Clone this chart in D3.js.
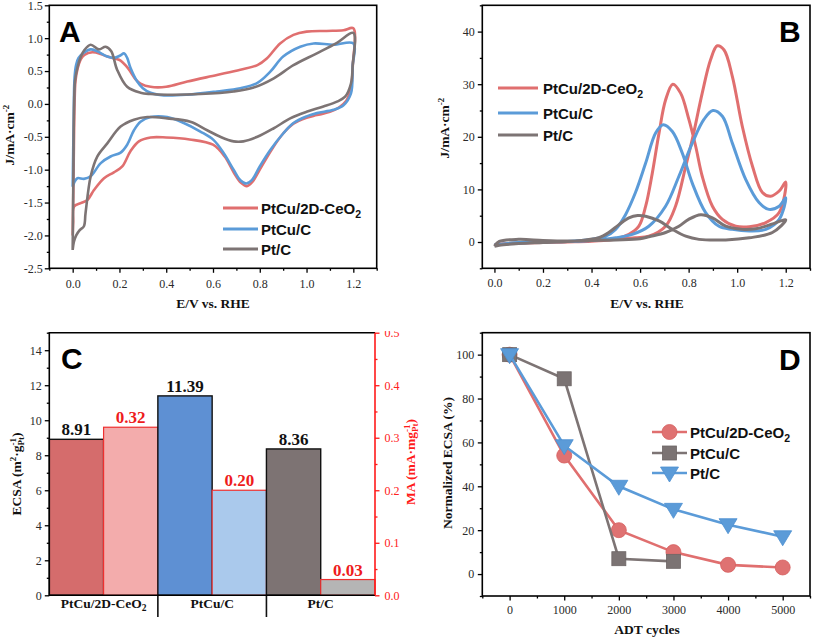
<!DOCTYPE html>
<html><head><meta charset="utf-8">
<script src="https://cdn.jsdelivr.net/npm/d3@7"></script>
<style>body{margin:0;background:#fff}</style>
</head><body><svg id="c" width="813" height="639"></svg>
<script>
// ---------------- DATA ----------------
const seriesNames = ["PtCu/2D-CeO2", "PtCu/C", "Pt/C"];

// Panel A: CV loops [E, J]
const cvRed = [[0,-2.0],[0.004,-1.0],[0.008,0.0],[0.012,0.35],[0.02,0.52],[0.035,0.68],[0.05,0.745],[0.084,0.785],[0.12,0.76],[0.148,0.72],[0.18,0.69],[0.205,0.66],[0.23,0.57],[0.247,0.49],[0.27,0.37],[0.29,0.31],[0.333,0.26],[0.4,0.26],[0.49,0.34],[0.617,0.44],[0.717,0.52],[0.79,0.59],[0.83,0.69],[0.887,0.92],[0.944,1.05],[1.0,1.10],[1.086,1.11],[1.158,1.12],[1.2,1.15],
  [1.198,0.6],[1.19,0.25],[1.17,0.05],[1.14,-0.05],[1.1,-0.12],[1.044,-0.17],[1.0,-0.21],[0.944,-0.3],[0.9,-0.45],[0.85,-0.7],[0.8,-1.0],[0.77,-1.18],[0.745,-1.25],[0.72,-1.2],[0.69,-1.05],[0.65,-0.8],[0.6,-0.62],[0.5,-0.54],[0.4,-0.51],[0.333,-0.51],[0.283,-0.57],[0.247,-0.72],[0.212,-0.95],[0.176,-1.04],[0.134,-1.13],[0.091,-1.31],[0.063,-1.46],[0.034,-1.51],[0.006,-1.56],[0.002,-1.8],[0,-2.0]];
const cvBlue = [[0,-1.26],[0.004,-0.3],[0.008,0.4],[0.015,0.6],[0.025,0.7],[0.048,0.78],[0.077,0.83],[0.105,0.80],[0.148,0.72],[0.176,0.7],[0.205,0.74],[0.219,0.77],[0.233,0.7],[0.247,0.55],[0.276,0.34],[0.3,0.24],[0.333,0.17],[0.39,0.13],[0.49,0.14],[0.617,0.19],[0.717,0.24],[0.79,0.32],[0.845,0.49],[0.9,0.72],[0.973,0.87],[1.03,0.92],[1.115,0.90],[1.2,0.92],
  [1.197,0.57],[1.19,0.16],[1.158,-0.02],[1.115,-0.09],[1.044,-0.14],[1.0,-0.19],[0.944,-0.29],[0.9,-0.45],[0.845,-0.7],[0.8,-0.95],[0.766,-1.16],[0.742,-1.21],[0.717,-1.16],[0.688,-1.0],[0.646,-0.75],[0.603,-0.55],[0.546,-0.42],[0.475,-0.29],[0.404,-0.2],[0.333,-0.2],[0.29,-0.27],[0.262,-0.4],[0.233,-0.62],[0.205,-0.74],[0.162,-0.8],[0.12,-0.9],[0.077,-1.1],[0.048,-1.14],[0.02,-1.13],[0.006,-1.2],[0,-1.26]];
const cvGray = [[0,-2.22],[0.003,-1.0],[0.006,0.0],[0.01,0.35],[0.02,0.55],[0.035,0.72],[0.05,0.82],[0.077,0.9],[0.112,0.83],[0.141,0.87],[0.165,0.8],[0.19,0.52],[0.233,0.26],[0.29,0.17],[0.333,0.15],[0.404,0.14],[0.546,0.15],[0.688,0.19],[0.774,0.25],[0.86,0.39],[0.944,0.59],[1.044,0.77],[1.13,0.93],[1.2,1.08],
  [1.197,0.57],[1.19,0.31],[1.165,0.11],[1.13,0.035],[1.072,-0.04],[1.0,-0.12],[0.93,-0.22],[0.86,-0.37],[0.79,-0.5],[0.73,-0.57],[0.688,-0.57],[0.631,-0.5],[0.575,-0.4],[0.503,-0.27],[0.404,-0.22],[0.319,-0.2],[0.262,-0.24],[0.205,-0.345],[0.148,-0.6],[0.105,-0.8],[0.077,-1.1],[0.055,-1.66],[0.048,-1.86],[0.03,-1.92],[0.015,-2.0],[0.005,-2.1],[0,-2.22]];

// Panel B: methanol oxidation CV loops [E, J]
const moRed = [[0,-0.5],[0.05,-0.3],[0.1,-0.2],[0.2,-0.1],[0.3,0.0],[0.4,0.15],[0.5,0.5],[0.58,0.8],[0.636,1.1],[0.705,3],[0.746,6.8],[0.788,14.4],[0.815,19.5],[0.856,28.3],[0.89,34.6],[0.918,37.3],[0.946,36.5],[0.98,31.5],[1.021,22],[1.063,14.4],[1.104,9.4],[1.138,8.7],[1.173,9.7],[1.2,11.4],
  [1.173,5.6],[1.118,3.7],[1.05,2.9],[0.994,3],[0.939,4.3],[0.898,6.8],[0.856,12.5],[0.829,18.2],[0.801,23.3],[0.767,28.3],[0.735,30],[0.705,27],[0.678,20.7],[0.65,13],[0.623,6.8],[0.595,3],[0.554,1.45],[0.5,0.6],[0.4,0.2],[0.3,0.0],[0.2,-0.1],[0.1,-0.2],[0,-0.5]];
const moBlue = [[0,-0.5],[0.1,-0.1],[0.2,0.0],[0.3,0.1],[0.4,0.3],[0.5,0.8],[0.568,1.45],[0.636,3],[0.705,6.8],[0.76,12.5],[0.815,18.8],[0.863,23.3],[0.9,25],[0.939,23.9],[0.98,18.8],[1.035,11.9],[1.09,7.5],[1.131,6.2],[1.173,6.8],[1.2,8.4],
  [1.173,4.3],[1.118,2.4],[1.05,2.1],[0.98,2.4],[0.925,3],[0.87,5.6],[0.815,11.2],[0.774,16.9],[0.733,21],[0.695,22.3],[0.664,20.7],[0.623,15],[0.581,9.4],[0.54,5.2],[0.499,2.4],[0.458,1.1],[0.4,0.5],[0.3,0.1],[0.2,0.0],[0.1,-0.2],[0,-0.5]];
const moGray = [[0,-0.8],[0.02,0.1],[0.1,0.5],[0.2,0.3],[0.3,0.2],[0.4,0.3],[0.5,0.4],[0.6,0.6],[0.636,1.0],[0.705,1.8],[0.76,3],[0.8,4.3],[0.85,5.2],[0.898,4.6],[0.953,3],[1.021,2.4],[1.076,2.5],[1.131,3.2],[1.2,4.2],
  [1.145,1.8],[1.05,0.8],[0.953,0.4],[0.843,0.5],[0.788,1.1],[0.733,2.4],[0.678,4],[0.623,4.9],[0.59,5.05],[0.554,4.6],[0.513,3.3],[0.471,1.8],[0.43,0.8],[0.375,0.4],[0.3,0.1],[0.2,-0.1],[0.1,-0.3],[0.02,-0.6],[0,-0.8]];

// Panel C
const catC = ["PtCu/2D-CeO2", "PtCu/C", "Pt/C"];
const ecsaVals = [8.91, 11.39, 8.36];
const maVals = [0.32, 0.20, 0.03];
const ecsaLabels = ["8.91", "11.39", "8.36"];
const maLabels = ["0.32", "0.20", "0.03"];

// Panel D
const adtCycles = [0, 1000, 2000, 3000, 4000, 5000];
const adtRed = [100, 54, 20, 10, 4.2, 3];
const adtGray = [100, 89, 7, 5.8];
const adtBlue = [100, 58.5, 40, 29.5, 22.5, 17];
const legendD = ["PtCu/2D-CeO2", "PtCu/C", "Pt/C"];

// ---------------- STYLE ----------------
const SERIF = '"Liberation Serif","Times New Roman",serif';
const SANS = '"Liberation Sans",Arial,sans-serif';
const RED = "#e06f6f", BLUE = "#5b9bd8", GRAY = "#7d7474";
const svg = d3.select("#c");

function writeLabel(t, str, subSize, dy) {
  if (/O2$/.test(str)) {
    t.append("tspan").text(str.slice(0, -1));
    t.append("tspan").attr("font-size", subSize).attr("dy", dy).text("2");
  } else t.text(str);
}

function axis(orient, scale, pos, major, minor, fmt, opts = {}) {
  const color = opts.color || "#000";
  const gen = orient === "left" ? d3.axisLeft : orient === "right" ? d3.axisRight : d3.axisBottom;
  const tr = orient === "bottom" ? `translate(0,${pos})` : `translate(${pos},0)`;
  const gm = svg.append("g").attr("transform", tr)
    .call(gen(scale).tickValues(minor).tickSize(2.5).tickFormat(""));
  gm.select(".domain").remove();
  gm.selectAll("line").attr("stroke", color).attr("stroke-width", 1.3);
  const g = svg.append("g").attr("transform", tr)
    .call(gen(scale).tickValues(major).tickSize(4.5).tickPadding(opts.pad || 3).tickFormat(fmt));
  g.select(".domain").remove();
  g.selectAll("line").attr("stroke", color).attr("stroke-width", 1.3);
  g.selectAll("text").attr("font-family", SERIF).attr("font-size", 12)
    .attr("fill", opts.textColor || "#2a2a2a");
  if (opts.clip) g.attr("clip-path", opts.clip);
  return g;
}

function frame(x, y, color) {
  const [x0, x1] = x.range(), [y0, y1] = y.range();
  svg.append("rect").attr("x", x0).attr("y", y1).attr("width", x1 - x0).attr("height", y0 - y1)
    .attr("fill", "none").attr("stroke", color || "#000").attr("stroke-width", 1.6);
}

// rotated title; parts: {t, dy, size, stackBack}
function yTitle(x, y, parts, color) {
  const t = svg.append("text").attr("transform", `translate(${x},${y}) rotate(-90)`)
    .attr("text-anchor", "middle")
    .attr("font-family", SERIF).attr("font-weight", "bold").attr("font-size", 13.5)
    .attr("fill", color || "#111");
  let prev = null;
  parts.forEach(p => {
    const s = t.append("tspan").text(p.t);
    if (p.size) s.attr("font-size", p.size);
    if (p.dy) s.attr("dy", p.dy);
    if (p.stackBack && prev) s.attr("dx", -prev.node().getComputedTextLength());
    prev = s;
  });
  return t;
}

function xTitle(x, y, txt) {
  svg.append("text").attr("x", x).attr("y", y).attr("text-anchor", "middle")
    .attr("font-family", SERIF).attr("font-weight", "bold").attr("font-size", 13.5)
    .attr("fill", "#111").text(txt);
}

function panelLetter(x, y, L) {
  svg.append("text").attr("x", x).attr("y", y).attr("font-family", SANS)
    .attr("font-weight", "bold").attr("font-size", 30).attr("fill", "#000").text(L);
}

function legend(x1, x2, tx, ys, names, colors, lw, markers) {
  names.forEach((n, i) => {
    svg.append("line").attr("x1", x1).attr("x2", x2).attr("y1", ys[i]).attr("y2", ys[i])
      .attr("stroke", colors[i]).attr("stroke-width", lw);
    if (markers) markers[i]((x1 + x2) / 2, ys[i]);
    const t = svg.append("text").attr("x", tx).attr("y", ys[i] + 5.5)
      .attr("font-family", SANS).attr("font-weight", "bold").attr("font-size", 15).attr("fill", "#111");
    writeLabel(t, n, 10.5, 4);
  });
}

const lineGen = (x, y) => d3.line().x(d => x(d[0])).y(d => y(d[1])).curve(d3.curveCatmullRom.alpha(0.5));
const ticks = (a, b, s) => d3.range(Math.round((b - a) / s) + 1).map(i => +(a + i * s).toFixed(4));

// ---------------- PANEL A ----------------
{
  const x = d3.scaleLinear().domain([-0.1, 1.3]).range([49.3, 376.7]);
  const y = d3.scaleLinear().domain([-2.5, 1.5]).range([268.3, 5.3]);
  const lg = lineGen(x, y);
  [[cvRed, RED], [cvBlue, BLUE], [cvGray, GRAY]].forEach(([d, c]) =>
    svg.append("path").attr("d", lg(d)).attr("fill", "none").attr("stroke", c)
      .attr("stroke-width", 2.6).attr("stroke-linejoin", "round"));
  frame(x, y);
  axis("left", y, 49.3, ticks(-2.5, 1.5, 0.5), ticks(-2.25, 1.25, 0.5), d => d.toFixed(1), { pad: 2 });
  axis("bottom", x, 268.3, ticks(0, 1.2, 0.2), ticks(-0.1, 1.3, 0.2), d => d.toFixed(1), { pad: 7 });
  yTitle(13.5, 135, [{ t: "J/mA·cm" }, { t: "-2", size: 9, dy: -5 }]);
  xTitle(213, 308, "E/V vs. RHE");
  panelLetter(59, 42, "A");
  legend(223, 258, 261, [208, 229, 249], seriesNames, [RED, BLUE, GRAY], 3);
}

// ---------------- PANEL B ----------------
{
  const x = d3.scaleLinear().domain([-0.05, 1.3]).range([482.3, 810]);
  const y = d3.scaleLinear().domain([-5, 45]).range([268.3, 5.3]);
  const lg = lineGen(x, y);
  [[moRed, RED], [moBlue, BLUE], [moGray, GRAY]].forEach(([d, c]) =>
    svg.append("path").attr("d", lg(d)).attr("fill", "none").attr("stroke", c)
      .attr("stroke-width", 3).attr("stroke-linejoin", "round"));
  frame(x, y);
  axis("left", y, 482.3, ticks(0, 40, 10), ticks(-5, 45, 10), d => d3.format("d")(d), { pad: 3 });
  axis("bottom", x, 268.3, ticks(0, 1.2, 0.2), ticks(0.1, 1.3, 0.2), d => d.toFixed(1), { pad: 6 });
  yTitle(448.5, 128, [{ t: "J/mA·cm" }, { t: "-2", size: 9, dy: -5 }]);
  xTitle(647, 308, "E/V vs. RHE");
  panelLetter(779, 42, "B");
  legend(498, 538, 543, [88, 113, 135], seriesNames, [RED, BLUE, GRAY], 3);
}

// ---------------- PANEL C ----------------
{
  const x = d3.scaleBand().domain(catC).range([49.3, 375]).padding(0);
  const inner = d3.scaleBand().domain(["ECSA", "MA"]).range([0, x.bandwidth()]);
  const y = d3.scaleLinear().domain([0, 15]).range([595.3, 332.7]);
  const y2 = d3.scaleLinear().domain([0, 0.5]).range([595.3, 332.7]);
  const dark = ["#d56c6c", "#5e90d3", "#7d7373"];
  const light = ["#f3acac", "#aac9ec", "#b5b5b5"];
  catC.forEach((c, i) => {
    const bx = x(c);
    svg.append("rect").attr("x", bx + inner("ECSA")).attr("y", y(ecsaVals[i]))
      .attr("width", inner.bandwidth()).attr("height", y(0) - y(ecsaVals[i]))
      .attr("fill", dark[i]).attr("stroke", "#111").attr("stroke-width", 1.4);
    svg.append("rect").attr("x", bx + inner("MA")).attr("y", y2(maVals[i]))
      .attr("width", inner.bandwidth()).attr("height", y2(0) - y2(maVals[i]))
      .attr("fill", light[i]).attr("stroke", "#ee3030").attr("stroke-width", 1.2);
    svg.append("text").attr("x", bx + inner("ECSA") + inner.bandwidth() / 2).attr("y", y(ecsaVals[i]) - 4)
      .attr("text-anchor", "middle").attr("font-family", SERIF).attr("font-weight", "bold")
      .attr("font-size", 17).attr("fill", "#111").text(ecsaLabels[i]);
    svg.append("text").attr("x", bx + inner("MA") + inner.bandwidth() / 2).attr("y", y2(maVals[i]) - 4)
      .attr("text-anchor", "middle").attr("font-family", SERIF).attr("font-weight", "bold")
      .attr("font-size", 17).attr("fill", "#ee1c1c").text(maLabels[i]);
    const t = svg.append("text").attr("x", bx + x.bandwidth() / 2).attr("y", 608)
      .attr("text-anchor", "middle").attr("font-family", SERIF).attr("font-weight", "bold")
      .attr("font-size", 13.5).attr("fill", "#111");
    writeLabel(t, c, 9.5, 3);
  });
  // category separators
  catC.slice(1).forEach(c => svg.append("line").attr("x1", x(c)).attr("x2", x(c))
    .attr("y1", 595.3).attr("y2", 617).attr("stroke", "#111").attr("stroke-width", 1.6));
  // frame: left, top, bottom black, right red
  svg.append("path").attr("d", `M375,332.7H49.3V595.3H375`).attr("fill", "none").attr("stroke", "#000").attr("stroke-width", 1.6);
  svg.append("line").attr("x1", 375).attr("x2", 375).attr("y1", 332.7).attr("y2", 595.3).attr("stroke", "#ff1a1a").attr("stroke-width", 1.6);
  axis("left", y, 49.3, ticks(0, 14, 2), ticks(1, 15, 2), d => d3.format("d")(d), { pad: 3 });
  svg.append("clipPath").attr("id", "clipC").append("rect").attr("x", -10).attr("y", 331).attr("width", 60).attr("height", 290);
  axis("right", y2, 375, ticks(0, 0.5, 0.1), ticks(0.05, 0.45, 0.1), d => d.toFixed(1),
    { pad: 5, color: "#ff1a1a", textColor: "#ff2020", clip: "url(#clipC)" });
  yTitle(21, 474, [{ t: "ECSA (m" }, { t: "2", size: 9, dy: -5 }, { t: "·g", dy: 5 },
    { t: "-1", size: 9, dy: -5 }, { t: "Pt", size: 9, dy: 8, stackBack: true }, { t: ")", dy: -3 }]);
  yTitle(414.5, 462, [{ t: "MA (mA·mg" }, { t: "-1", size: 9, dy: -5 }, { t: "Pt", size: 9, dy: 8, stackBack: true }, { t: ")", dy: -3 }], "#ff1a1a");
  panelLetter(61, 369, "C");
}

// ---------------- PANEL D ----------------
{
  const x = d3.scaleLinear().domain([-500, 5500]).range([482.3, 810]);
  const y = d3.scaleLinear().domain([-10, 110]).range([596, 332.7]);
  const L = d3.line().x(d => x(d[0])).y(d => y(d[1]));
  const circ = (cx, cy) => svg.append("circle").attr("cx", cx).attr("cy", cy).attr("r", 7.5).attr("fill", "#df7272").attr("stroke", "#d66060").attr("stroke-width", 0.8);
  const sq = (cx, cy) => svg.append("rect").attr("x", cx - 7).attr("y", cy - 7).attr("width", 14).attr("height", 14).attr("fill", "#7b7373").attr("stroke", "#6d6565").attr("stroke-width", 0.8);
  const tri = (cx, cy) => svg.append("path").attr("d", `M${cx - 9},${cy - 6}L${cx + 9},${cy - 6}L${cx},${cy + 9}Z`).attr("fill", "#5b9bd8").attr("stroke", "#4d8fd0").attr("stroke-width", 0.8);
  const sets = [[adtRed, RED, circ], [adtGray, GRAY, sq], [adtBlue, BLUE, tri]];
  sets.forEach(([vals, c, m]) => {
    const pts = vals.map((v, i) => [adtCycles[i], v]);
    svg.append("path").attr("d", L(pts)).attr("fill", "none").attr("stroke", c).attr("stroke-width", 2.6);
    pts.forEach(p => m(x(p[0]), y(p[1])));
  });
  frame(x, y);
  axis("left", y, 482.3, ticks(0, 100, 20), ticks(-10, 110, 20), d => d3.format("d")(d), { pad: 3.5 });
  axis("bottom", x, 596, ticks(0, 5000, 1000), ticks(-500, 5500, 1000), d => d3.format("d")(d), { pad: 5 });
  yTitle(451.5, 463, [{ t: "Normalized ECSA (%)" }]);
  xTitle(647, 634, "ADT cycles");
  panelLetter(779, 370, "D");
  legend(652, 687, 690, [432, 453, 473], legendD, [RED, GRAY, BLUE], 2.6, [circ, sq, tri]);
}
</script></body></html>
